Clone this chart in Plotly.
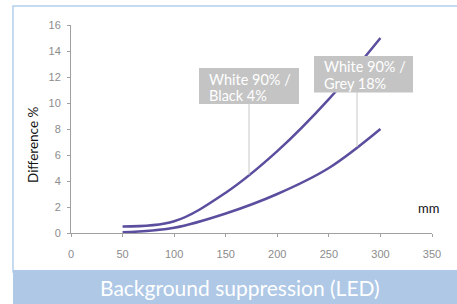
import plotly.graph_objects as go

# Data
distance_mm = [50, 100, 150, 200, 250, 300]
diff_black4 = [0.5, 0.9, 3.1, 6.3, 10.3, 15.0]
diff_grey18 = [0.05, 0.4, 1.5, 3.0, 5.0, 8.0]
x_ticks = [0, 50, 100, 150, 200, 250, 300, 350]
y_ticks = [0, 2, 4, 6, 8, 10, 12, 14, 16]
label_black = ["White 90% /", "Black 4%"]
label_grey = ["White 90% /", "Grey 18%"]
title_text = "Background suppression (LED)"

W, H = 457, 304
ML, MR, MT, MB = 71, 25, 25, 71
PW = W - ML - MR
PH = H - MT - MB


def px(x):
    return (x - ML) / PW


def py(y):
    return (H - MB - y) / PH


LINE_COL = "#5a4e9e"
FONT = "Lato"
BOX_COL = "#c4c4c4"

fig = go.Figure()
fig.add_trace(go.Scatter(x=distance_mm, y=diff_black4, mode="lines",
                         line=dict(color=LINE_COL, width=2.5, shape="spline"),
                         showlegend=False, hoverinfo="skip"))
fig.add_trace(go.Scatter(x=distance_mm, y=diff_grey18, mode="lines",
                         line=dict(color=LINE_COL, width=2.5, shape="spline"),
                         showlegend=False, hoverinfo="skip"))

shapes = [
    # outer box border
    dict(type="rect", xref="paper", yref="paper", x0=px(13), x1=px(470),
         y0=py(272), y1=py(6), line=dict(color="#b5cfec", width=1.5), fillcolor="rgba(0,0,0,0)"),
    # bottom band
    dict(type="rect", xref="paper", yref="paper", x0=px(13), x1=px(470),
         y0=py(310), y1=py(270), line=dict(width=0), fillcolor="#aec8e6"),
    # leader lines
    dict(type="line", xref="paper", yref="paper", x0=px(249), x1=px(249),
         y0=py(104), y1=py(175), line=dict(color="#c8c8c8", width=1)),
    dict(type="line", xref="paper", yref="paper", x0=px(357), x1=px(357),
         y0=py(92), y1=py(147), line=dict(color="#c8c8c8", width=1)),
    # label boxes
    dict(type="rect", xref="paper", yref="paper", x0=px(199), x1=px(299),
         y0=py(104), y1=py(68), line=dict(width=0), fillcolor=BOX_COL),
    dict(type="rect", xref="paper", yref="paper", x0=px(314), x1=px(413),
         y0=py(92.5), y1=py(56), line=dict(width=0), fillcolor=BOX_COL),
]

annotations = []
for i, t in enumerate(label_black):
    annotations.append(dict(text=t, xref="paper", yref="paper", x=px(207), y=py(79 + 16 * i),
                            xanchor="left", yanchor="middle", showarrow=False,
                            font=dict(family=FONT, size=14.5, color="white")))
for i, t in enumerate(label_grey):
    annotations.append(dict(text=t, xref="paper", yref="paper", x=px(322), y=py(67 + 16 * i),
                            xanchor="left", yanchor="middle", showarrow=False,
                            font=dict(family=FONT, size=14.5, color="white")))
annotations += [
    dict(text="Difference %", xref="paper", yref="paper", x=px(33), y=py(145),
         xanchor="center", yanchor="middle", showarrow=False, textangle=-90,
         font=dict(family=FONT, size=13.5, color="#111111")),
    dict(text="mm", xref="paper", yref="paper", x=px(428), y=py(208),
         xanchor="center", yanchor="middle", showarrow=False,
         font=dict(family=FONT, size=13, color="#111111")),
    dict(text=title_text, xref="paper", yref="paper", x=px(240), y=py(287),
         xanchor="center", yanchor="middle", showarrow=False,
         font=dict(family=FONT, size=21, color="white")),
]

axis_common = dict(showgrid=False, zeroline=False, showline=True,
                   linecolor="#a0a0a0", linewidth=1, ticks="outside",
                   ticklen=3, tickcolor="#a0a0a0",
                   tickfont=dict(family="Liberation Sans", size=11, color="#8c8c8c"))

fig.update_layout(
    width=W, height=H,
    margin=dict(l=ML, r=MR, t=MT, b=MB, pad=0),
    paper_bgcolor="white", plot_bgcolor="white",
    xaxis=dict(range=[0, 350], tickvals=x_ticks, **axis_common),
    yaxis=dict(range=[0, 16], tickvals=y_ticks, **axis_common),
    shapes=shapes, annotations=annotations,
)
fig.update_xaxes(ticklabelstandoff=8)
fig.update_yaxes(ticklabelstandoff=4)

fig.write_html("out.html", config={"displayModeBar": False},
               post_script="document.body.style.margin='0';document.body.style.overflow='hidden';")
